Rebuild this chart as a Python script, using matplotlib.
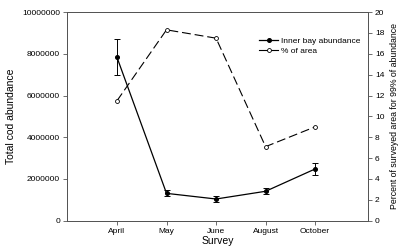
import matplotlib
matplotlib.use("Agg")
import matplotlib.pyplot as plt
from matplotlib.lines import Line2D

plt.rcParams['font.family'] = ['Liberation Sans', 'DejaVu Sans']

surveys = ["April", "May", "June", "August", "October"]
abundance = [7830000, 1310000, 1040000, 1410000, 2480000]
abundance_err = [860000, 150000, 150000, 150000, 300000]
pct_area = [11.5, 18.3, 17.5, 7.1, 9.0]

fig = plt.figure(figsize=(4.01, 2.47), dpi=100)
ax = fig.add_axes([0.167, 0.1065, 0.751, 0.8445])
x = list(range(len(surveys)))

ax.errorbar(x, abundance, yerr=abundance_err, color='black', marker='o',
            markersize=2.6, linewidth=0.9, elinewidth=0.7, capsize=2,
            capthick=0.7)
ax.set_xlim(-1.01, 5.07)
ax.set_ylim(0, 10000000)
ax.set_yticks(range(0, 10000001, 2000000))
ax.set_yticklabels([str(v) for v in range(0, 10000001, 2000000)])
ax.set_xticks(x)
ax.set_xticklabels(surveys)
ax.set_ylabel("Total cod abundance", fontsize=7.5, labelpad=4)
ax.set_xlabel("Survey", fontsize=7.5, labelpad=1)

ax2 = ax.twinx()
ax2.plot(x, pct_area, color='black', linestyle=(0, (8, 3.5)), linewidth=0.8,
         marker='o', markersize=2.8, markerfacecolor='white',
         markeredgewidth=0.6)
ax2.set_ylim(0, 20)
ax2.set_yticks(range(0, 21, 2))
ax2.set_ylabel("Percent of surveyed area for 99% of abundance", fontsize=6.3,
               labelpad=4)

for a in (ax, ax2):
    a.tick_params(labelsize=6, length=3, width=0.6, pad=2, color='#555555')
    for s in a.spines.values():
        s.set_color('#555555')
        s.set_linewidth(0.7)

h1 = Line2D([], [], color='black', marker='o', markersize=2.6, linewidth=0.9)
h2 = Line2D([], [], color='black', marker='o', markersize=2.8, linewidth=0.8,
            markerfacecolor='white', markeredgewidth=0.6)
ax2.legend([h1, h2], ["Inner bay abundance", "% of area"], loc='upper left',
           bbox_to_anchor=(0.625, 0.9), frameon=False, fontsize=6,
           handlelength=2.2, handletextpad=0.4, labelspacing=0.25,
           borderpad=0)

fig.savefig("out.png", dpi=100)
